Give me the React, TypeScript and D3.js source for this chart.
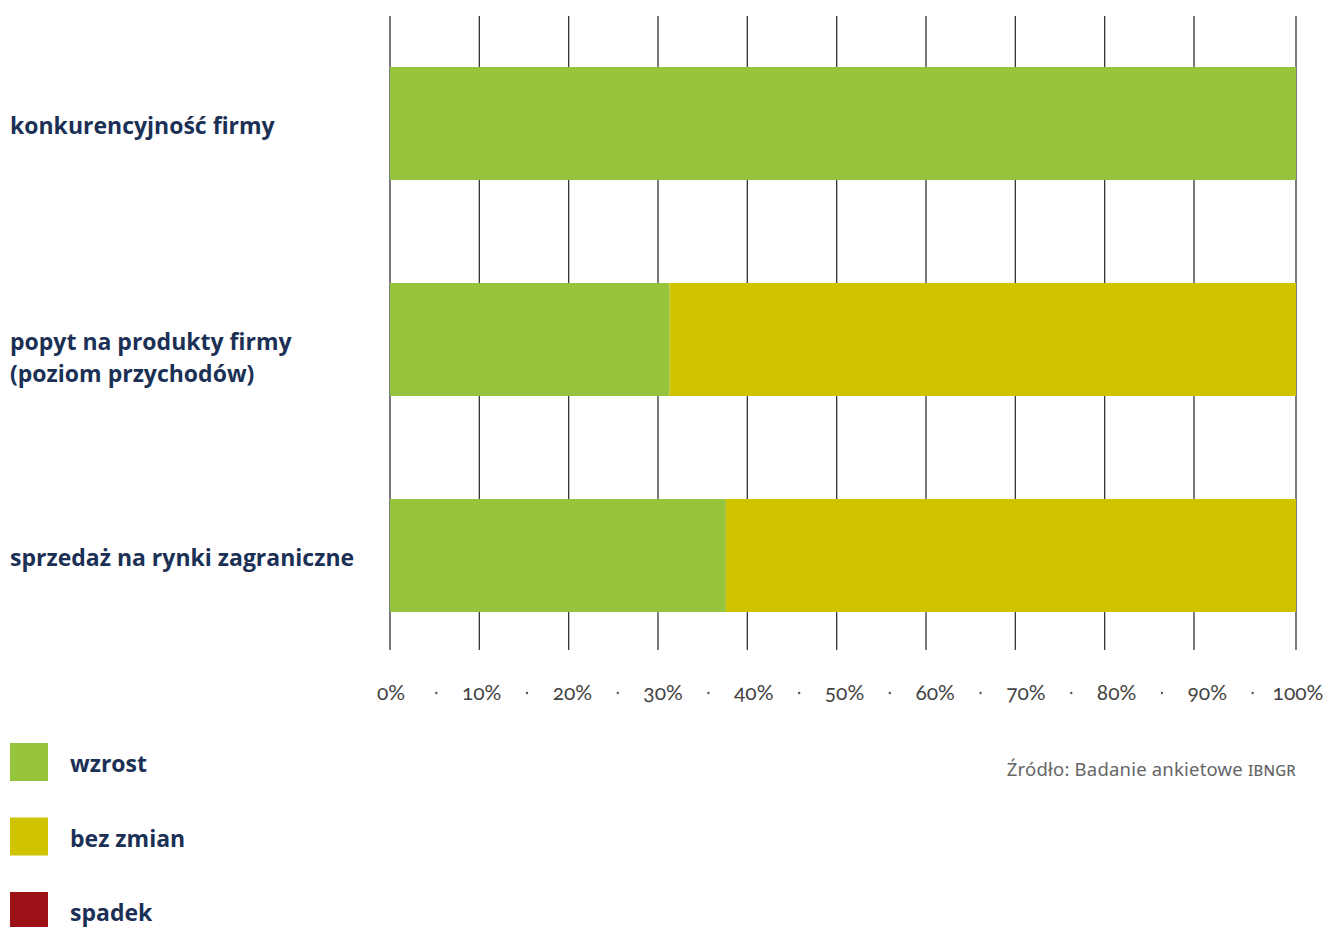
import React from "react";
import * as d3 from "d3";

const categories = [
  ["konkurencyjność firmy"],
  ["popyt na produkty firmy", "(poziom przychodów)"],
  ["sprzedaż na rynki zagraniczne"],
];
const wzrost = [100, 31.3, 37.6];
const bezZmian = [0, 68.7, 62.4];
const spadek = [0, 0, 0];
const ticks = [0, 10, 20, 30, 40, 50, 60, 70, 80, 90, 100];
const seriesNames = ["wzrost", "bez zmian", "spadek"];
const colors = ["#96c43c", "#d0c400", "#9b1116"];

export default function App() {
  const W = 1326, H = 927;
  // piecewise scale: the original grid has an uneven last interval
  const x = d3.scaleLinear().domain([0, 90, 100]).range([390, 1194, 1296]);
  const xl = d3.scaleLinear().domain([0, 100]).range([391, 1298]);
  const y = d3.scaleBand().domain(["0", "1", "2"]).range([16, 663]).paddingInner(0.477).paddingOuter(0.236);
  const rows = categories.map((c, i) => ({ i, vals: [wzrost[i], bezZmian[i], spadek[i]] }));
  const textColor = "#1b3055";
  const labelFont = "'Open Sans', 'Noto Sans', sans-serif";
  return (
    <svg width={W} height={H} style={{ position: "absolute", left: 0, top: 0, background: "#fff" }}>
      {ticks.map((t) => (
        <line key={t} x1={x(t)} x2={x(t)} y1={16} y2={650} stroke="#333" strokeWidth={1.3} />
      ))}
      {rows.map((r) => {
        let acc = 0;
        return r.vals.map((v, k) => {
          const x0 = acc;
          acc += v;
          if (v <= 0) return null;
          return (
            <rect key={`${r.i}-${k}`} x={x(x0)} y={y(String(r.i))!} width={x(acc) - x(x0)}
              height={y.bandwidth()} fill={colors[k]} />
          );
        });
      })}
      {categories.map((lines, i) => {
        const cy = y(String(i))! + y.bandwidth() / 2 + 2;
        const lh = 32;
        return lines.map((ln, j) => (
          <text key={`${i}-${j}`} x={10} y={cy + j * lh} dy="0.35em" fontFamily={labelFont} fontWeight={700}
            fontSize={23} fill={textColor}>{ln}</text>
        ));
      })}
      {ticks.map((t) => (
        <text key={`l${t}`} x={xl(t)} y={700} textAnchor="middle" fontFamily="Lato, 'Open Sans', sans-serif"
          fontSize={21} fill="#444" style={{ fontVariantNumeric: "oldstyle-nums" }}>{t}%</text>
      ))}
      {ticks.slice(0, -1).map((t) => (
        <circle key={`d${t}`} cx={xl(t + 5)} cy={693} r={1.2} fill="#555" />
      ))}
      {seriesNames.map((s, k) => {
        const top = 743 + k * 74.5;
        return (
          <g key={s}>
            <rect x={10} y={top} width={38} height={38} fill={colors[k]} />
            <text x={70} y={top + 21} dy="0.35em" fontFamily={labelFont} fontWeight={700} fontSize={23} fill={textColor}>{s}</text>
          </g>
        );
      })}
      <text x={1296} y={776} textAnchor="end" fontFamily="'Noto Sans', 'Open Sans', sans-serif" fontSize={18.5}
        fill="#666" letterSpacing={0.2}>
        Źródło: Badanie ankietowe <tspan style={{ fontVariant: "small-caps" }}>ibngr</tspan>
      </text>
    </svg>
  );
}
